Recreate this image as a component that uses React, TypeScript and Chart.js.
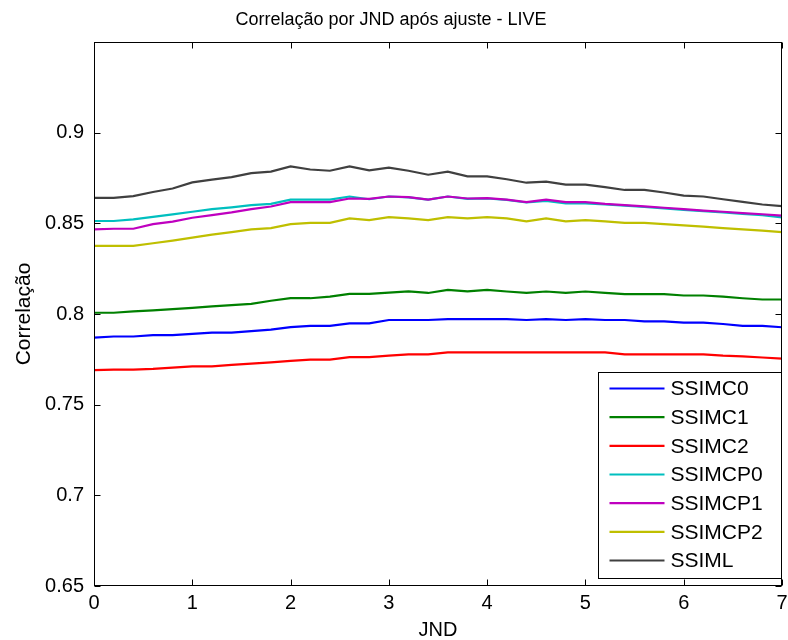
import React, { useEffect, useRef } from "react";
import { Chart, registerables } from "chart.js";

Chart.register(...registerables);

const JND = [0, 0.2, 0.4, 0.6, 0.8, 1.0, 1.2, 1.4, 1.6, 1.8, 2.0, 2.2, 2.4, 2.6, 2.8, 3.0, 3.2, 3.4, 3.6, 3.8, 4.0, 4.2, 4.4, 4.6, 4.8, 5.0, 5.2, 5.4, 5.6, 5.8, 6.0, 6.2, 6.4, 6.6, 6.8, 7.0];

const SSIMC0 = [0.787, 0.7876, 0.7876, 0.7883, 0.7883, 0.789, 0.7897, 0.7897, 0.7906, 0.7914, 0.7928, 0.7935, 0.7935, 0.7948, 0.7948, 0.7967, 0.7967, 0.7967, 0.7972, 0.7972, 0.7972, 0.7972, 0.7967, 0.7972, 0.7967, 0.7972, 0.7967, 0.7967, 0.7959, 0.7959, 0.7952, 0.7952, 0.7945, 0.7935, 0.7935, 0.7927];
const SSIMC1 = [0.8007, 0.8007, 0.8014, 0.802, 0.8027, 0.8034, 0.8042, 0.8049, 0.8056, 0.8073, 0.8087, 0.8087, 0.8096, 0.8111, 0.8111, 0.8118, 0.8125, 0.8116, 0.8133, 0.8125, 0.8133, 0.8124, 0.8116, 0.8124, 0.8116, 0.8124, 0.8116, 0.811, 0.811, 0.811, 0.8102, 0.8102, 0.8096, 0.8087, 0.808, 0.808];
const SSIMC2 = [0.769, 0.7693, 0.7693, 0.7697, 0.7704, 0.7711, 0.7711, 0.7719, 0.7726, 0.7733, 0.7742, 0.7748, 0.7748, 0.7762, 0.7762, 0.777, 0.7777, 0.7777, 0.7788, 0.7788, 0.7788, 0.7788, 0.7788, 0.7788, 0.7788, 0.7788, 0.7788, 0.7777, 0.7777, 0.7777, 0.7777, 0.7777, 0.777, 0.7766, 0.776, 0.7754];
const SSIMCP0 = [0.8513, 0.8513, 0.8522, 0.8536, 0.8549, 0.8564, 0.8578, 0.8588, 0.86, 0.8607, 0.8631, 0.8631, 0.8631, 0.8648, 0.8633, 0.8648, 0.8643, 0.8631, 0.8648, 0.8635, 0.8637, 0.8629, 0.8615, 0.8624, 0.861, 0.861, 0.8604, 0.8598, 0.859, 0.8582, 0.8574, 0.8567, 0.856, 0.8552, 0.8545, 0.8533];
const SSIMCP1 = [0.8467, 0.847, 0.847, 0.8496, 0.8509, 0.8531, 0.8545, 0.856, 0.8578, 0.8593, 0.8617, 0.8617, 0.8617, 0.8637, 0.8635, 0.8648, 0.8645, 0.8631, 0.8648, 0.8637, 0.8639, 0.8631, 0.8617, 0.8631, 0.8617, 0.8617, 0.8607, 0.86, 0.8593, 0.8586, 0.8578, 0.857, 0.8564, 0.8556, 0.855, 0.8542];
const SSIMCP2 = [0.8376, 0.8376, 0.8376, 0.839, 0.8405, 0.8421, 0.8438, 0.8452, 0.8467, 0.8474, 0.8496, 0.8503, 0.8503, 0.8527, 0.8518, 0.8534, 0.8527, 0.8518, 0.8534, 0.8527, 0.8534, 0.8527, 0.8511, 0.8527, 0.8511, 0.8518, 0.8511, 0.8503, 0.8503, 0.8496, 0.8489, 0.8482, 0.8474, 0.8467, 0.846, 0.8451];
const SSIML = [0.864, 0.864, 0.865, 0.8673, 0.8692, 0.8726, 0.8741, 0.8755, 0.8777, 0.8785, 0.8814, 0.8797, 0.879, 0.8814, 0.8792, 0.8807, 0.879, 0.8768, 0.8785, 0.8759, 0.8759, 0.8743, 0.8724, 0.873, 0.8713, 0.8713, 0.87, 0.8684, 0.8684, 0.867, 0.8653, 0.8648, 0.8633, 0.8618, 0.8604, 0.8595];

const SERIES_NAMES = ["SSIMC0", "SSIMC1", "SSIMC2", "SSIMCP0", "SSIMCP1", "SSIMCP2", "SSIML"];
const SERIES_VALUES = [SSIMC0, SSIMC1, SSIMC2, SSIMCP0, SSIMCP1, SSIMCP2, SSIML];
const SERIES_COLORS = ["#0000FF", "#008000", "#FF0000", "#00BFBF", "#BF00BF", "#BFBF00", "#404040"];

const X_TICKS = [0, 1, 2, 3, 4, 5, 6, 7];
const Y_TICKS = [0.65, 0.7, 0.75, 0.8, 0.85, 0.9];

const TITLE = "Correlação por JND após ajuste - LIVE";
const X_LABEL = "JND";
const Y_LABEL = "Correlação";

const FONT = "'Liberation Sans', Arial, Helvetica, sans-serif";
const NARROW = "'Liberation Sans Narrow', 'Arial Narrow', 'Liberation Sans', Arial, sans-serif";

const boxPlugin = {
  id: "matlabBox",
  afterDatasetsDraw(chart: any) {
    const { ctx, chartArea, scales } = chart;
    const l = Math.round(chartArea.left) + 0.5;
    const r = Math.round(chartArea.right) - 0.5;
    const t = Math.round(chartArea.top) + 0.5;
    const b = Math.round(chartArea.bottom) - 0.5;
    const tl = 6;
    ctx.save();
    ctx.strokeStyle = "#000";
    ctx.lineWidth = 1;
    ctx.beginPath();
    X_TICKS.forEach((v) => {
      const px = Math.round(scales.x.getPixelForValue(v)) + 0.5;
      ctx.moveTo(px, b);
      ctx.lineTo(px, b - tl);
      ctx.moveTo(px, t);
      ctx.lineTo(px, t + tl);
    });
    Y_TICKS.forEach((v) => {
      const py = Math.round(scales.y.getPixelForValue(v)) + 0.5;
      ctx.moveTo(l, py);
      ctx.lineTo(l + tl, py);
      ctx.moveTo(r, py);
      ctx.lineTo(r - tl, py);
    });
    ctx.stroke();
    ctx.strokeRect(l, t, r - l, b - t);

    // legend inside the axes, bottom-right
    const bw = 183;
    const bh = 206;
    const bx = Math.round(chartArea.right) - 1 - bw + 0.5;
    const by = Math.round(chartArea.bottom) - 8 - bh + 0.5;
    ctx.fillStyle = "#fff";
    ctx.fillRect(bx, by, bw, bh);
    ctx.strokeStyle = "#000";
    ctx.strokeRect(bx, by, bw, bh);
    const rowH = 28.67;
    ctx.font = `21px ${FONT}`;
    ctx.textBaseline = "middle";
    ctx.textAlign = "left";
    chart.data.datasets.forEach((ds: any, i: number) => {
      const y = by + 16 + i * rowH;
      ctx.strokeStyle = ds.borderColor;
      ctx.lineWidth = 2.2;
      ctx.beginPath();
      ctx.moveTo(bx + 11, y);
      ctx.lineTo(bx + 66, y);
      ctx.stroke();
      ctx.fillStyle = "#000";
      ctx.fillText(ds.label, bx + 72, y + 1);
    });
    ctx.restore();
  },
};

export default function App() {
  const ref = useRef<HTMLCanvasElement>(null);
  useEffect(() => {
    const datasets = SERIES_NAMES.map((name, i) => ({
      label: name,
      data: JND.map((x, j) => ({ x, y: SERIES_VALUES[i][j] })),
      borderColor: SERIES_COLORS[i],
      backgroundColor: SERIES_COLORS[i],
      borderWidth: 2.2,
      pointRadius: 0,
      tension: 0,
      fill: false,
      order: SERIES_NAMES.length - i,
    }));
    const chart = new Chart(ref.current!, {
      type: "line",
      data: { datasets },
      options: {
        responsive: false,
        animation: false,
        devicePixelRatio: 1,
        layout: { padding: { left: 0, right: 6, top: 0, bottom: 0 } },
        plugins: {
          legend: { display: false },
          tooltip: { enabled: false },
          title: {
            display: true,
            text: TITLE,
            color: "#000",
            font: { family: NARROW, size: 18, weight: "normal", lineHeight: 1.2 },
            padding: { top: 9, bottom: 11.4 },
          },
        },
        scales: {
          x: {
            type: "linear",
            min: 0,
            max: 7,
            afterBuildTicks: (s: any) => {
              s.ticks = X_TICKS.map((v) => ({ value: v }));
            },
            afterFit: (s: any) => {
              s.height = 54;
              s.paddingLeft = 0;
              s.paddingRight = 0;
            },
            ticks: {
              color: "#000",
              font: { family: FONT, size: 20, lineHeight: 1 },
              padding: 7,
              maxRotation: 0,
              callback: (v: any) => String(v),
            },
            grid: { display: false, drawTicks: false },
            border: { display: false },
            title: {
              display: true,
              text: X_LABEL,
              color: "#000",
              font: { family: FONT, size: 20, lineHeight: 1 },
              padding: { top: 0, bottom: 0 },
            },
          },
          y: {
            type: "linear",
            min: 0.65,
            max: 0.95,
            afterBuildTicks: (s: any) => {
              s.ticks = Y_TICKS.map((v) => ({ value: v }));
            },
            afterFit: (s: any) => {
              s.width = 94;
              s.paddingTop = 0;
              s.paddingBottom = 0;
            },
            ticks: {
              color: "#000",
              font: { family: FONT, size: 20 },
              padding: 10,
              callback: (v: any) => String(Number(Number(v).toFixed(2))),
            },
            grid: { display: false, drawTicks: false },
            border: { display: false },
            title: {
              display: true,
              text: Y_LABEL,
              color: "#000",
              font: { family: FONT, size: 21, lineHeight: 1.2 },
              padding: { top: 12, bottom: 0 },
            },
          },
        },
      },
      plugins: [boxPlugin],
    } as any);
    return () => chart.destroy();
  }, []);
  return (
    <div style={{ position: "absolute", left: 0, top: 0, width: 788, height: 640, background: "#fff" }}>
      <canvas ref={ref} width={788} height={640} style={{ display: "block", width: 788, height: 640 }} />
    </div>
  );
}
